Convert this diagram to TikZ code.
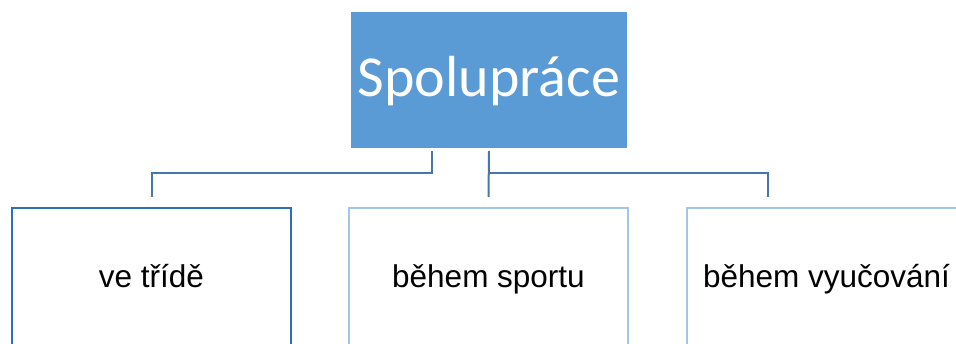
\documentclass[tikz,border=0pt]{standalone}
\usepackage{fontspec}
\setmainfont{Liberation Sans}
\newfontfamily\titlefont{Carlito}
\usetikzlibrary{calc}
\definecolor{topfill}{HTML}{5B9BD5}
\definecolor{connc}{HTML}{4677A8}
\definecolor{darkb}{HTML}{2E70B2}
\definecolor{lightb}{HTML}{A3C5E6}
\tikzset{
  conn/.style={draw=connc, line width=2pt},
  leaf/.style={draw, line width=2pt, rectangle, minimum width=279pt, minimum height=139pt, inner sep=0pt, text height=19pt, text depth=0pt, font=\fontsize{31.5}{36}\selectfont, text=black},
}
\begin{document}
\begin{tikzpicture}[x=1pt,y=-1pt]
\useasboundingbox (0,0) rectangle (956,343);
\clip (0,0) rectangle (956,343);
\node[fill=topfill, minimum width=276pt, minimum height=136pt, inner sep=0pt, text height=32pt, text depth=0pt, text=white, font=\titlefont\fontsize{58}{64}\selectfont] (top) at (489,80) {Spolupráce};
\node[leaf, draw=darkb] (b1) at (151.5,277.5) {ve třídě};
\node[leaf, draw=lightb] (b2) at (488.5,277.5) {během sportu};
\node[leaf, draw=lightb] (b3) at (826.5,277.5) {během vyučování};
\draw[conn] ([xshift=-57pt,yshift=-3pt]top.south) |- ([yshift=34pt]b1.north) -- ([yshift=10pt]b1.north);
\draw[conn] ([yshift=-3pt]top.south) -- ([yshift=10pt]b2.north);
\draw[conn] ([yshift=34pt]b2.north) -| ([xshift=-58.5pt,yshift=10pt]b3.north);
\end{tikzpicture}
\end{document}
